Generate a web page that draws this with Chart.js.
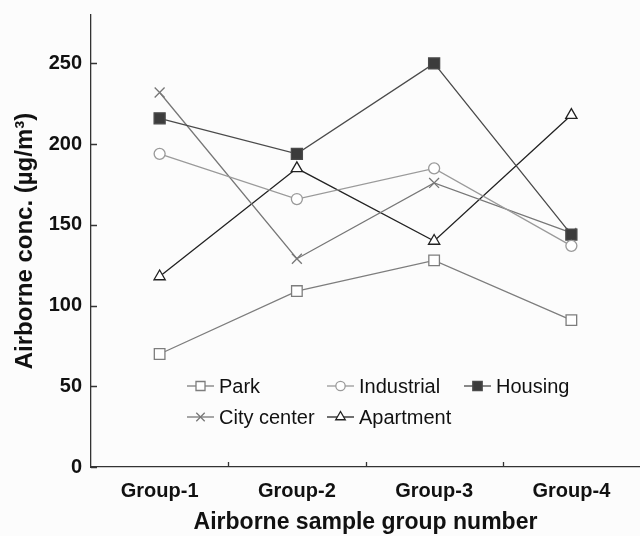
<!DOCTYPE html>
<html>
<head>
<meta charset="utf-8">
<script src="https://cdn.jsdelivr.net/npm/chart.js@4/dist/chart.umd.min.js"></script>
<style>
  html, body { margin: 0; padding: 0; background: #fcfcfc; }
  #wrap { width: 640px; height: 536px; }
</style>
</head>
<body>
<div id="wrap"><canvas id="conc"></canvas></div>
<script>
// sample groups and airborne concentrations (ug/m3)
const groups = ['Group-1', 'Group-2', 'Group-3', 'Group-4'];
const park = [70, 109, 128, 91];
const industrial = [194, 166, 185, 137];
const housing = [216, 194, 250, 144];
const cityCenter = [232, 129, 176, 145];
const apartment = [118, 185, 140, 218];
const yTicks = [0, 50, 100, 150, 200, 250];

const FONT = '"Liberation Sans", Arial, sans-serif';
const INK = '#111';

const mk = (label, data, color, style, radius, fill) => ({
    label: label,
    data: data,
    borderColor: color,
    borderWidth: 1.3,
    pointStyle: style,
    pointRadius: radius,
    pointHoverRadius: radius,
    pointBorderColor: color,
    pointBorderWidth: 1.3,
    pointBackgroundColor: fill,
    tension: 0
});

// index 0 is painted last, so Housing sits above City center
const datasets = [
    mk('Park', park, '#7d7d7d', 'rect', 7.5, '#fff'),
    mk('Industrial', industrial, '#9a9a9a', 'circle', 5.5, '#fff'),
    mk('Housing', housing, '#4a4a4a', 'rect', 7.8, '#3c3c3c'),
    mk('City center', cityCenter, '#777', 'crossRot', 7, '#777'),
    mk('Apartment', apartment, '#222', 'triangle', 6.5, '#fff')
];

// legend drawn inside the plot area, two rows
const legendSlots = [
    { x: 187, y: 386 }, { x: 327, y: 386 }, { x: 464, y: 386 },
    { x: 187, y: 417 }, { x: 327, y: 417 }
];

const insideLegend = {
    id: 'insideLegend',
    afterDraw(chart) {
        const ctx = chart.ctx;
        ctx.save();
        chart.data.datasets.forEach((ds, i) => {
            const s = legendSlots[i];
            ctx.strokeStyle = ds.borderColor;
            ctx.lineWidth = 1.3;
            ctx.beginPath();
            ctx.moveTo(s.x, s.y);
            ctx.lineTo(s.x + 27, s.y);
            ctx.stroke();
            ctx.fillStyle = ds.pointBackgroundColor;
            ctx.strokeStyle = ds.pointBorderColor;
            Chart.helpers.drawPoint(ctx, {
                pointStyle: ds.pointStyle,
                radius: ds.pointRadius * 0.85,
                rotation: 0,
                borderWidth: 1.3
            }, s.x + 13.5, s.y);
            ctx.fillStyle = INK;
            ctx.font = '20px ' + FONT;
            ctx.textBaseline = 'middle';
            ctx.textAlign = 'left';
            ctx.fillText(ds.label, s.x + 32, s.y + 1);
        });
        ctx.restore();
    }
};

// short tick marks pointing into the plot
const innerTicks = {
    id: 'innerTicks',
    afterDraw(chart) {
        const ctx = chart.ctx;
        const xs = chart.scales.x, ys = chart.scales.y;
        const area = chart.chartArea;
        ctx.save();
        ctx.strokeStyle = '#333';
        ctx.lineWidth = 1.3;
        ctx.beginPath();
        yTicks.forEach(v => {
            const py = Math.round(ys.getPixelForValue(v)) + 0.5;
            ctx.moveTo(area.left, py);
            ctx.lineTo(area.left + 6, py);
        });
        for (let i = 0; i < groups.length - 1; i++) {
            const px = Math.round((xs.getPixelForValue(i) + xs.getPixelForValue(i + 1)) / 2) + 0.5;
            ctx.moveTo(px, area.bottom);
            ctx.lineTo(px, area.bottom - 5);
        }
        ctx.stroke();
        ctx.restore();
    }
};

new Chart(document.getElementById('conc'), {
    type: 'line',
    data: { labels: groups, datasets: datasets },
    plugins: [innerTicks, insideLegend],
    options: {
        responsive: true,
        maintainAspectRatio: false,
        animation: false,
        layout: { autoPadding: false, padding: { top: 15, right: 0, left: 0, bottom: 0 } },
        plugins: {
            legend: { display: false },
            tooltip: { enabled: false }
        },
        scales: {
            x: {
                offset: true,
                grid: { display: false, drawTicks: false },
                border: { display: true, color: '#333', width: 1.3 },
                ticks: { color: INK, padding: 12, font: { family: FONT, size: 20, weight: 'bold' } },
                title: {
                    display: true,
                    text: 'Airborne sample group number',
                    color: INK,
                    padding: { top: 0, bottom: 0 },
                    font: { family: FONT, size: 23, weight: 'bold' }
                },
                afterFit(scale) {
                    scale.height = 69;
                    scale.paddingLeft = 0;
                    scale.paddingRight = 0;
                }
            },
            y: {
                min: 0,
                max: 280,
                grid: { display: false, drawTicks: false },
                border: { display: true, color: '#333', width: 1.3 },
                afterBuildTicks(scale) { scale.ticks = yTicks.map(v => ({ value: v })); },
                ticks: { color: INK, padding: 9, font: { family: FONT, size: 20, weight: 'bold' } },
                title: {
                    display: true,
                    text: 'Airborne conc. (\u00b5g/m\u00b3)',
                    color: INK,
                    padding: { top: 11, bottom: 0 },
                    font: { family: FONT, size: 24, weight: 'bold' }
                },
                afterFit(scale) {
                    scale.width = 91;
                    scale.paddingTop = 0;
                    scale.paddingBottom = 0;
                }
            }
        }
    }
});
</script>
</body>
</html>
